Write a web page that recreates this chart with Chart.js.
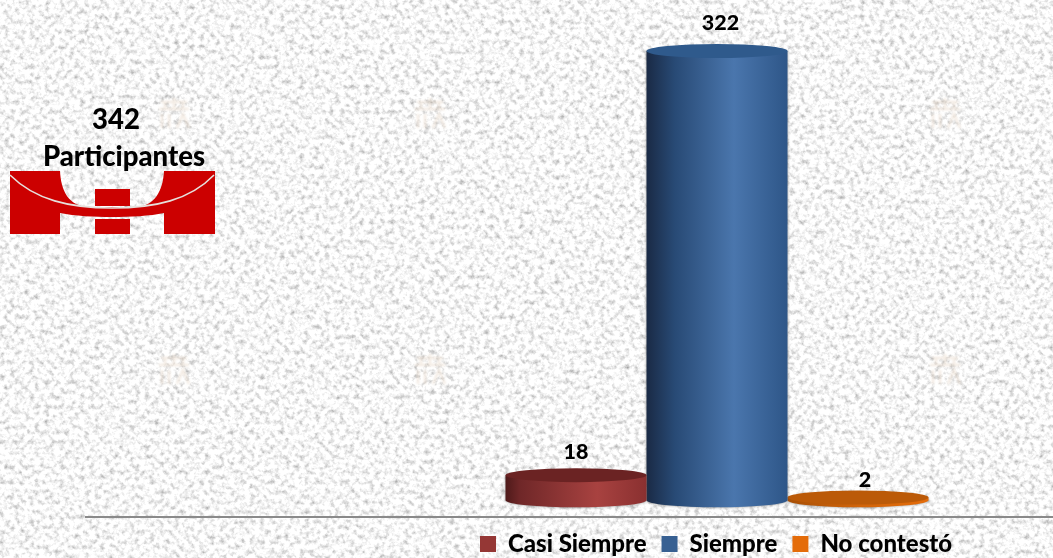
<!DOCTYPE html>
<html lang="es">
<head>
<meta charset="utf-8">
<title>342 Participantes</title>
<script src="https://cdn.jsdelivr.net/npm/chart.js@4"></script>
<style>
html, body { margin: 0; padding: 0; width: 1053px; height: 558px; overflow: hidden; background: #ececec; }
#wrap { position: relative; width: 1053px; height: 558px; overflow: hidden; }
#bg, #logo, #chart { position: absolute; left: 0; top: 0; }
</style>
</head>
<body>
<div id="wrap">
  <svg id="bg" width="1053" height="558">
    <defs>
      <filter id="stone" x="0" y="0" width="100%" height="100%">
        <feTurbulence type="fractalNoise" baseFrequency="0.2" numOctaves="3" seed="7"/>
        <feColorMatrix type="matrix" values="1.2 0 0 0 0.33  1.2 0 0 0 0.33  1.2 0 0 0 0.33  0 0 0 0 1"/>
        <feGaussianBlur stdDeviation="0.5"/>
      </filter>
      <filter id="soft"><feGaussianBlur stdDeviation="0.9"/></filter>
      <g id="mark" fill="none" stroke="#e8d8c8" stroke-width="2.5" opacity="0.5" filter="url(#soft)">
        <path d="M4 6 H30 M2 13 H32 M8 6 V13 M17 2 V13 M26 6 V13"/>
        <path d="M5 18 V32 M12 18 V32 M20 32 L26 18 L32 32"/>
      </g>
    </defs>
    <rect width="1053" height="558" filter="url(#stone)"/>
    <use href="#mark" x="157" y="96"/><use href="#mark" x="413" y="96"/><use href="#mark" x="928" y="96"/>
    <use href="#mark" x="157" y="352"/><use href="#mark" x="413" y="352"/><use href="#mark" x="928" y="352"/>
  </svg>
  <svg id="logo" width="230" height="245">
    <path fill="#cc0000" d="M10 171 H60 C61 190 68 207 90 207 H135 C155 207 163 190 164 171 H215 V234 H164 V213 C150 216 130 217 112 217 C94 217 75 216 60 213 V234 H10 Z"/>
    <rect fill="#cc0000" x="95" y="189" width="35" height="17"/>
    <rect fill="#cc0000" x="95" y="219" width="35" height="15"/>
    <path fill="none" stroke="#e6e0dc" stroke-width="1.6" d="M10 175 C35 200 70 208 112 208 C155 208 190 200 214 175"/>
  </svg>
  <canvas id="chart" width="1053" height="566"></canvas>
</div>
<script>
// datos del grafico
var categories = ['Respuestas'];
var seriesNames = ['Casi Siempre', 'Siempre', 'No contestó'];
var seriesValues = [18, 322, 2];
var seriesColors = ['#953735', '#376092', '#e46c0a'];
var totalLabel = ['342', 'Participantes'];

// estilo de cada cilindro
var cylinderStyles = [
    { top: '#6b2323', stops: [[0, '#4e1a1a'], [0.1, '#6f2728'], [0.65, '#a84240'], [1, '#8a3030']] },
    { top: '#2f5a8c', stops: [[0, '#1a2a45'], [0.2, '#284a75'], [0.62, '#4a76ad'], [1, '#2e5688']] },
    { top: '#bb5a08', stops: [[0, '#a85006'], [0.5, '#d0640a'], [1, '#e46c0a']] }
];

// desplazamiento de cada etiqueta respecto a la tapa del cilindro
var labelOffsets = [[0, -23], [3.5, -28], [7, -17]];

var cylinders = {
    id: 'cylinders',
    // en vez de la barra plana se pinta un cilindro
    beforeDatasetDraw: function(chart, args) {
        var ctx = chart.ctx;
        var style = cylinderStyles[args.index];
        var bar = chart.getDatasetMeta(args.index).data[0];
        var left = bar.x - bar.width / 2;
        var right = bar.x + bar.width / 2;
        var rx = bar.width / 2;
        var ry = 7;

        var grad = ctx.createLinearGradient(left, 0, right, 0);
        style.stops.forEach(function(s) { grad.addColorStop(s[0], s[1]); });

        ctx.save();
        ctx.shadowColor = 'rgba(60,60,60,0.55)';
        ctx.shadowBlur = 3;
        ctx.fillStyle = grad;
        ctx.beginPath();
        ctx.moveTo(left, bar.y);
        ctx.lineTo(left, bar.base);
        ctx.ellipse(bar.x, bar.base, rx, ry, 0, Math.PI, 0, true);
        ctx.lineTo(right, bar.y);
        ctx.closePath();
        ctx.fill();
        ctx.shadowColor = 'transparent';
        ctx.fillStyle = style.top;
        ctx.beginPath();
        ctx.ellipse(bar.x, bar.y, rx, ry, 0, 0, Math.PI * 2);
        ctx.fill();
        ctx.restore();
        return false;
    },
    afterDraw: function(chart) {
        var ctx = chart.ctx;
        ctx.save();
        // linea del eje, mas larga que el area de las barras
        ctx.strokeStyle = '#8a8a8a';
        ctx.lineWidth = 2;
        ctx.beginPath();
        ctx.moveTo(85, chart.chartArea.bottom);
        ctx.lineTo(1053, chart.chartArea.bottom);
        ctx.stroke();

        ctx.fillStyle = '#000';
        ctx.textAlign = 'center';
        ctx.textBaseline = 'middle';
        ctx.font = '900 21.5px Lato';
        seriesValues.forEach(function(v, i) {
            var bar = chart.getDatasetMeta(i).data[0];
            ctx.fillText(v, bar.x + labelOffsets[i][0], bar.y + labelOffsets[i][1]);
        });

        ctx.font = '900 27.5px Lato';
        ctx.fillText(totalLabel[0], 116, 120);
        ctx.fillText(totalLabel[1], 124, 157);
        ctx.restore();
    }
};

new Chart(document.getElementById('chart'), {
    type: 'bar',
    data: {
        labels: categories,
        datasets: seriesNames.map(function(name, i) {
            return { label: name, data: [seriesValues[i]], backgroundColor: seriesColors[i] };
        })
    },
    options: {
        responsive: false,
        animation: false,
        layout: { padding: { left: 465, right: 84, top: 51, bottom: 0 } },
        datasets: { bar: { barPercentage: 1, categoryPercentage: 423 / 504 } },
        scales: {
            x: { display: false },
            y: { display: false, min: -12, max: 322 }
        },
        plugins: {
            tooltip: { enabled: false },
            legend: {
                position: 'bottom',
                align: 'start',
                onClick: null,
                labels: {
                    boxWidth: 16,
                    boxHeight: 16,
                    padding: 15,
                    color: '#000',
                    font: { family: 'Lato', weight: 900, size: 24, lineHeight: 1 }
                }
            }
        }
    },
    plugins: [cylinders]
});
</script>
</body>
</html>
